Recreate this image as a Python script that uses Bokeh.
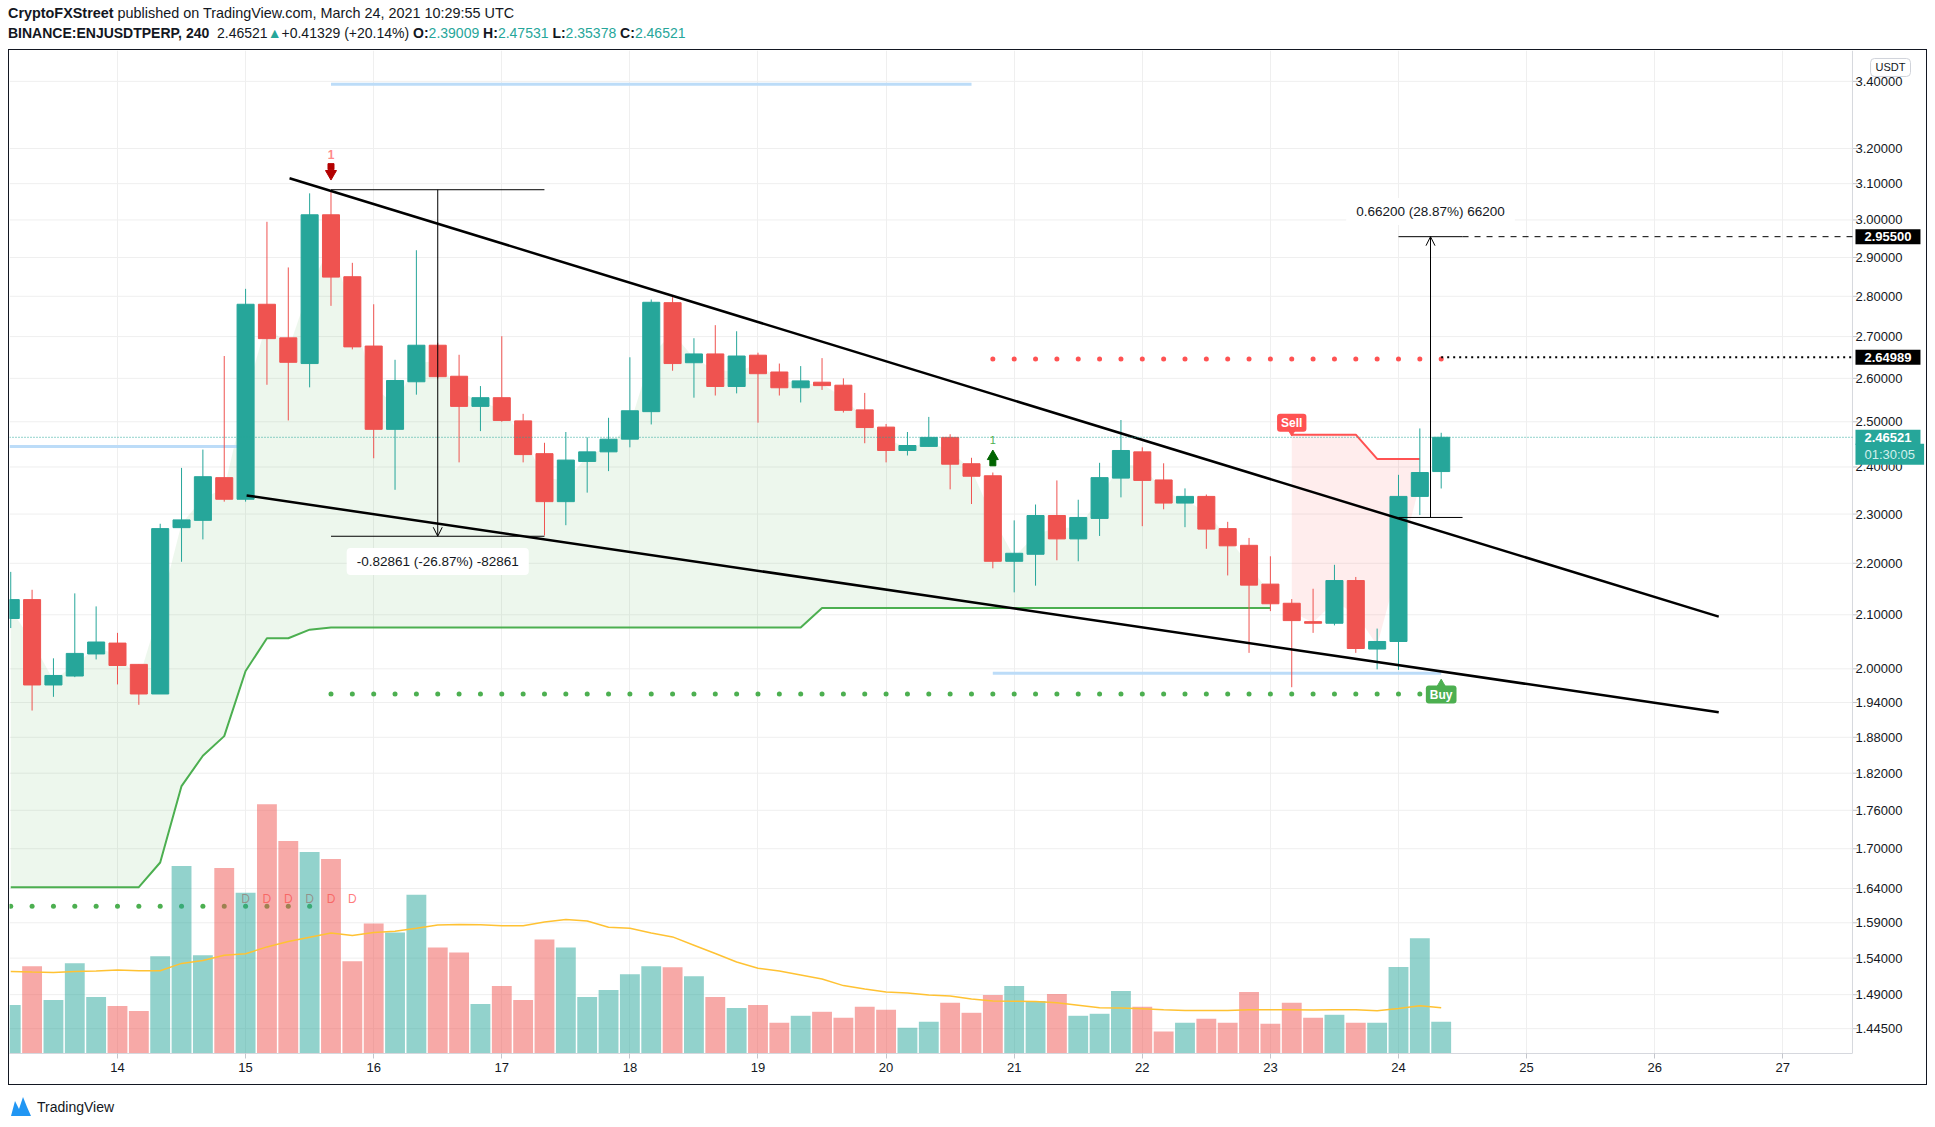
from bokeh.plotting import figure
from bokeh.models import (Range1d, LinearScale, FixedTicker, Label, Arrow, OpenHead, Div,
                          ColumnDataSource)
from bokeh.layouts import column
from bokeh.embed import file_html
from bokeh.resources import INLINE
from bokeh.core.properties import value

# ---------------- data (x axis = day of March 2021, UTC) ----------------
FIRST_CANDLE = 13 + 4 / 24      # 13 Mar 04:00
BAR_STEP = 4 / 24               # 240-minute candles

opens = [2.093, 2.129, 1.971, 1.987, 2.027, 2.047, 2.008, 1.955, 2.272, 2.287,
         2.377, 2.331, 2.780, 2.697, 2.635, 3.014, 2.850, 2.677, 2.483, 2.592,
         2.679, 2.605, 2.535, 2.555, 2.502, 2.429, 2.326, 2.412, 2.433, 2.461,
         2.523, 2.784, 2.637, 2.658, 2.581, 2.655, 2.615, 2.578, 2.591, 2.584,
         2.527, 2.488, 2.436, 2.445, 2.465, 2.407, 2.381, 2.204, 2.218, 2.297,
         2.249, 2.291, 2.376, 2.433, 2.372, 2.323, 2.337, 2.270, 2.236, 2.159,
         2.122, 2.087, 2.084, 2.166, 2.036, 2.050, 2.337, 2.39009]
highs = [2.183, 2.148, 2.019, 2.141, 2.116, 2.066, 2.008, 2.280, 2.398, 2.438,
         2.653, 2.819, 2.995, 2.874, 3.073, 3.077, 2.886, 2.780, 2.644, 2.919,
         2.685, 2.656, 2.582, 2.701, 2.518, 2.453, 2.477, 2.465, 2.509, 2.650,
         2.792, 2.798, 2.696, 2.728, 2.713, 2.661, 2.635, 2.629, 2.648, 2.600,
         2.566, 2.495, 2.477, 2.511, 2.472, 2.420, 2.388, 2.287, 2.320, 2.371,
         2.330, 2.409, 2.504, 2.443, 2.408, 2.354, 2.341, 2.284, 2.251, 2.214,
         2.130, 2.150, 2.197, 2.173, 2.074, 2.383, 2.485, 2.47531]
lows = [2.075, 1.926, 1.950, 1.985, 2.017, 1.972, 1.936, 1.955, 2.203, 2.248,
        2.326, 2.326, 2.585, 2.503, 2.579, 2.776, 2.669, 2.419, 2.351, 2.562,
        2.600, 2.410, 2.479, 2.500, 2.410, 2.256, 2.277, 2.345, 2.391, 2.443,
        2.494, 2.618, 2.555, 2.560, 2.565, 2.498, 2.560, 2.544, 2.573, 2.521,
        2.452, 2.410, 2.425, 2.445, 2.352, 2.321, 2.190, 2.143, 2.156, 2.206,
        2.204, 2.255, 2.335, 2.275, 2.310, 2.273, 2.229, 2.176, 2.029, 2.107,
        1.967, 2.066, 2.080, 2.029, 1.999, 1.998, 2.298, 2.35378]
closes = [2.129, 1.971, 1.988, 2.028, 2.049, 2.006, 1.955, 2.270, 2.288, 2.379,
          2.331, 2.780, 2.695, 2.638, 3.014, 2.849, 2.675, 2.483, 2.595, 2.679,
          2.604, 2.535, 2.555, 2.503, 2.427, 2.326, 2.415, 2.433, 2.461, 2.525,
          2.785, 2.635, 2.658, 2.581, 2.653, 2.611, 2.578, 2.594, 2.583, 2.526,
          2.487, 2.436, 2.447, 2.465, 2.406, 2.380, 2.204, 2.220, 2.297, 2.249,
          2.293, 2.377, 2.436, 2.371, 2.323, 2.337, 2.269, 2.235, 2.157, 2.121,
          2.089, 2.084, 2.166, 2.037, 2.050, 2.337, 2.388, 2.46521]
volumes = [485, 872, 535, 902, 564, 475, 425, 972, 1876, 982,
           1856, 1607, 2492, 2124, 2015, 1945, 922, 1299, 1210, 1588,
           1061, 1011, 495, 674, 535, 1140, 1061, 564, 634, 793,
           872, 862, 773, 564, 455, 485, 308, 377, 417, 358,
           467, 437, 258, 318, 507, 407, 586, 675, 526, 596,
           377, 397, 626, 467, 219, 308, 348, 308, 616, 298,
           507, 358, 387, 308, 308, 864, 1152, 318]
volume_ma = [821, 815, 811, 821, 825, 834, 828, 828, 901, 930,
             983, 997, 1066, 1119, 1162, 1205, 1179, 1209, 1222, 1252,
             1285, 1291, 1288, 1278, 1278, 1315, 1341, 1325, 1262, 1252,
             1205, 1166, 1083, 1000, 915, 853, 825, 785, 745, 679,
             646, 616, 606, 586, 576, 546, 526, 523, 519, 507,
             483, 457, 454, 447, 437, 430, 430, 430, 437, 437,
             437, 434, 437, 437, 427, 450, 477, 457]
# SuperTrend: long line for candles 0..59, short line for candles 60..66
supertrend_long = ([1.642] * 7 + [1.679, 1.799, 1.849, 1.882, 1.996, 2.056, 2.056, 2.072]
                   + [2.076] * 23 + [2.113] * 22)
supertrend_short = [2.471, 2.471, 2.471, 2.471, 2.4175, 2.4175, 2.4175]

# drawings (time in March days, price)
upper_trend = ([15.343, 26.5], [3.115, 2.0965])
lower_trend = ([15.008, 26.5], [2.339, 1.923])
blue_levels = [(15.667, 20.667, 3.391), (13.157, 14.95, 2.445), (20.833, 24.333, 1.992)]
range_down = dict(x0=15.667, x1=17.333, xm=16.5, top=3.0830, bot=2.2544, label_y=2.2037,
                  text="-0.82861 (-26.87%) -82861")
range_up = dict(x0=24.0, x1=24.5, xm=24.25, top=2.955, bot=2.293, label_y=3.023,
                text="0.66200 (28.87%) 66200")
red_dot_level, green_dot_level, low_dot_level, d_level = 2.646, 1.955, 1.614, 1.6247
target_price, stop_price, last_price = 2.955, 2.64989, 2.46521
countdown = "01:30:05"

day_ticks = [14, 15, 16, 17, 18, 19, 20, 21, 22, 23, 24, 25, 26, 27]
price_ticks = [1.445, 1.49, 1.54, 1.59, 1.64, 1.70, 1.76, 1.82, 1.88, 1.94,
               2.0, 2.1, 2.2, 2.3, 2.4, 2.5, 2.6, 2.7, 2.8, 2.9, 3.0, 3.1, 3.2, 3.4]

# ---------------- style / geometry ----------------
TEAL, RED = "#26a69a", "#ef5350"
GREEN, SRED = "#4caf50", "#ff5252"
TXT = "#131722"
FONT = "Liberation Sans"
PX_PER_DAY = 128.1
W, H = 1919, 1034
X0 = 13.157
X_SEP = 27.544                       # price-scale separator
X_END = X0 + W / PX_PER_DAY          # right border
X_TICK = X_SEP + 5 / PX_PER_DAY
X_LAB = X_SEP + 3 / PX_PER_DAY
Y0, Y1 = 1.4129, 3.4962

n = len(opens)
times = [FIRST_CANDLE + i * BAR_STEP for i in range(n)]
is_up = [c >= o for o, c in zip(opens, closes)]
col = [TEAL if u else RED for u in is_up]
mid = [(o + c) / 2 for o, c in zip(opens, closes)]
src = ColumnDataSource(dict(
    t=times, h=highs, l=lows,
    top=[max(o, c) for o, c in zip(opens, closes)],
    bot=[min(o, c) for o, c in zip(opens, closes)],
    col=col, vol=volumes, ma=volume_ma))

p = figure(width=W, height=H, x_range=Range1d(X0, X_END), y_range=Range1d(Y0, Y1),
           y_axis_type="log", y_axis_location=None, output_backend="svg",
           toolbar_location=None, min_border_left=0, min_border_right=0,
           min_border_top=0, min_border_bottom=31, outline_line_color=None,
           background_fill_color="white", border_fill_color="white")
p.extra_y_ranges = {"vol": Range1d(0, 10030)}
p.extra_y_scales = {"vol": LinearScale()}
p.styles = {"border-left": "1px solid #131722", "border-right": "1px solid #131722"}
for g in p.ygrid:
    g.visible = False

xax = p.xaxis[0]
xax.ticker = FixedTicker(ticks=day_ticks)
xax.bounds = (X0, X_SEP)
xax.major_tick_in = 0
xax.major_tick_out = 5
xax.minor_tick_line_color = None
xax.axis_line_color = "#d6d8de"
xax.major_tick_line_color = "#c4c6cc"
xax.major_label_text_font = FONT
xax.major_label_text_font_size = "13px"
xax.major_label_text_color = TXT
xax.major_label_standoff = 4
p.xgrid.grid_line_color = "#efefef"

# ---- price scale (drawn with the same log scale) ----
nt = len(price_ticks)
p.segment(x0=[X0] * nt, x1=[X_SEP] * nt, y0=price_ticks, y1=price_ticks,
          line_color="#efefef", line_width=1)
p.segment(x0=[X_SEP] * nt, x1=[X_TICK] * nt, y0=price_ticks, y1=price_ticks,
          line_color="#c4c6cc", line_width=1)
p.segment(x0=[X_SEP], x1=[X_SEP], y0=[Y0], y1=[Y1], line_color="#d6d8de", line_width=1)
p.text(x=[X_LAB] * nt, y=price_ticks, text=[f"{t:.5f}" for t in price_ticks],
       text_font=value(FONT), text_font_size="13px", text_color=TXT,
       text_align="left", text_baseline="middle")

# supertrend fills
k_long = len(supertrend_long)
k_short = len(supertrend_short)
p.varea(x=times[:k_long], y1=supertrend_long, y2=mid[:k_long], fill_color=GREEN, fill_alpha=0.1)
p.varea(x=times[k_long:k_long + k_short], y1=supertrend_short,
        y2=mid[k_long:k_long + k_short], fill_color=SRED, fill_alpha=0.1)

# lower signal dots and D marks (under volume)
p.scatter(x=times[:15], y=[low_dot_level] * 15, size=5, color=GREEN, line_color=None)
p.text(x=times[11:17], y=[d_level] * 6, text=["D"] * 6, text_color=SRED, text_alpha=0.75,
       text_font=value(FONT), text_font_size="12px", text_align="center", text_baseline="middle")

# volume
p.vbar(x="t", top="vol", bottom=0, width=0.155, fill_color="col", fill_alpha=0.5,
       line_color=None, source=src, y_range_name="vol")
p.line(x="t", y="ma", line_color="#ffc233", line_width=1.5, source=src, y_range_name="vol")

# light blue levels
p.segment(x0=[b[0] for b in blue_levels], x1=[b[1] for b in blue_levels],
          y0=[b[2] for b in blue_levels], y1=[b[2] for b in blue_levels],
          line_color="#bcdcf8", line_width=3)

p.line(x=times[:k_long], y=supertrend_long, line_color=GREEN, line_width=2)
p.line(x=times[k_long:k_long + k_short], y=supertrend_short, line_color=SRED, line_width=2)

# dotted levels
p.scatter(x=times[46:68], y=[red_dot_level] * 22, size=5, color=SRED, line_color=None)
p.scatter(x=times[15:67], y=[green_dot_level] * 52, size=5, color=GREEN, line_color=None)

# candles
p.segment(x0="t", y0="h", x1="t", y1="l", line_color="col", line_width=1, source=src)
p.vbar(x="t", top="top", bottom="bot", width=0.133, fill_color="col", line_color="col", source=src)

# trend lines
p.line(x=upper_trend[0], y=upper_trend[1], line_color="black", line_width=2.5)
p.line(x=lower_trend[0], y=lower_trend[1], line_color="black", line_width=2.5)

# price range tools
for r, head_at_top in ((range_down, False), (range_up, True)):
    p.segment(x0=[r["x0"], r["x0"]], x1=[r["x1"], r["x1"]], y0=[r["top"], r["bot"]],
              y1=[r["top"], r["bot"]], line_color="black", line_width=1)
    ys, ye = (r["bot"], r["top"]) if head_at_top else (r["top"], r["bot"])
    p.add_layout(Arrow(end=OpenHead(size=9, line_width=1), x_start=r["xm"], y_start=ys,
                       x_end=r["xm"], y_end=ye, line_width=1))
    p.add_layout(Label(x=r["xm"], y=r["label_y"], text=r["text"], text_align="center",
                       text_baseline="middle", text_font=FONT, text_font_size="13.5px",
                       text_color=TXT, background_fill_color="white", border_radius=4,
                       padding=(10, 6)))

# horizontal price lines
p.segment(x0=[X0], x1=[X_SEP], y0=[last_price], y1=[last_price], line_color=TEAL,
          line_width=1, line_dash="1 2")
p.segment(x0=[times[67]], x1=[X_SEP], y0=[stop_price], y1=[stop_price], line_color="black",
          line_width=2, line_dash="2 4")
p.segment(x0=[range_up["x1"]], x1=[X_SEP], y0=[target_price], y1=[target_price],
          line_color="black", line_width=1, line_dash="6 6")

# TD sequential marks
p.scatter(x=[times[15]], y=[3.128], marker="inverted_triangle", size=11, color="#b30000")
p.scatter(x=[times[15]], y=[3.148], marker="square", size=6, color="#b30000")
p.text(x=[times[15]], y=[3.183], text=["1"], text_color="#ff8a8a", text_font=value(FONT),
       text_font_size="12px", text_align="center", text_baseline="middle", text_font_style="bold")
p.scatter(x=[times[46]], y=[2.423], marker="triangle", size=11, color="#006400")
p.scatter(x=[times[46]], y=[2.409], marker="square", size=6, color="#006400")
p.text(x=[times[46]], y=[2.46], text=["1"], text_color=GREEN, text_font=value(FONT),
       text_font_size="11px", text_align="center", text_baseline="middle")

# buy / sell
p.scatter(x=[times[60]], y=[2.477], marker="inverted_triangle", size=7, color=SRED)
p.add_layout(Label(x=times[60], y=2.498, text="Sell", text_align="center", text_baseline="middle",
                   text_font=FONT, text_font_size="12px", text_font_style="bold", text_color="white",
                   background_fill_color=SRED, border_radius=3, padding=(4, 2)))
p.scatter(x=[times[67]], y=[1.973], marker="triangle", size=8, color=GREEN)
p.add_layout(Label(x=times[67], y=1.954, text="Buy", text_align="center", text_baseline="middle",
                   text_font=FONT, text_font_size="12px", text_font_style="bold", text_color="white",
                   background_fill_color=GREEN, border_radius=3, padding=(4, 2)))

# price-scale badges
def badge(y, text, bg, fg, bold=True):
    p.add_layout(Label(x=X_LAB, y=y, text=text, text_align="left", text_baseline="middle",
                       text_font=FONT, text_font_size="13px",
                       text_font_style="bold" if bold else "normal", text_color=fg,
                       background_fill_color=bg, padding=(9, 3)))

badge(target_price, f"{target_price:.5f}", "black", "white")
badge(stop_price, f"{stop_price:.5f}", "black", "white")
badge(last_price, f"{last_price:.5f}", TEAL, "white")
badge(2.4277, countdown, TEAL, "#d2f0ec", bold=False)
p.add_layout(Label(x=27.841, y=3.443, text="USDT", text_align="center", text_baseline="middle",
                   text_font=FONT, text_font_size="11px", text_color=TXT, background_fill_color="white",
                   border_line_color="#d0d3da", border_radius=4, padding=(5, 3)))

# ---------------- header / footer ----------------
teal = lambda s: f'<span style="color:{TEAL}">{s}</span>'
header_html = (
    f'<div style="position:relative;width:{W}px;height:42px;border-bottom:1px solid {TXT};'
    f'box-sizing:border-box;font-family:\'{FONT}\',sans-serif;font-size:14px;color:{TXT};">'
    f'<div style="position:absolute;left:0;top:-4px;line-height:19.7px;white-space:nowrap;">'
    f'<span style="font-size:14.4px"><b>CryptoFXStreet</b> published on TradingView.com, '
    f'March 24, 2021 10:29:55 UTC</span><br>'
    f'<b>BINANCE:ENJUSDTPERP, 240</b>&nbsp; {closes[-1]:.5f}{teal("&#9650;")}+0.41329 (+20.14%) '
    f'<b>O:</b>{teal(f"{opens[-1]:.5f}")} <b>H:</b>{teal(f"{highs[-1]:.5f}")} '
    f'<b>L:</b>{teal(f"{lows[-1]:.5f}")} <b>C:</b>{teal(f"{closes[-1]:.5f}")}'
    f'</div></div>')
footer_html = (
    f'<div style="position:relative;width:{W}px;height:35px;border-top:1px solid {TXT};'
    f'box-sizing:border-box;font-family:\'{FONT}\',sans-serif;font-size:14px;color:{TXT};">'
    f'<svg style="position:absolute;left:2px;top:10px" width="22" height="22" viewBox="0 0 22 22">'
    f'<path d="M1 21 L5 6 L9 14 L13 2 L17 12 L21 21 Z" fill="#2196f3"/></svg>'
    f'<span style="position:absolute;left:29px;top:12px">TradingView</span></div>')
header = Div(text=header_html, width=W, height=42, margin=0)
footer = Div(text=footer_html, width=W, height=35, margin=0)

layout = column(header, p, footer, spacing=0, margin=(8, 0, 0, 8))
open("out.html", "w").write(file_html(layout, INLINE))
